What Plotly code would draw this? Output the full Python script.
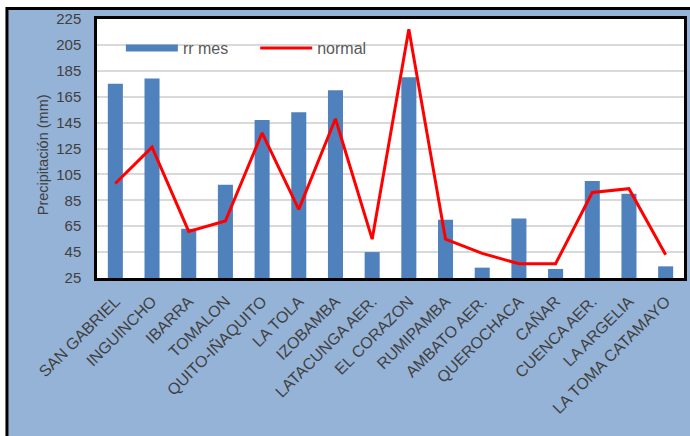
import plotly.graph_objects as go

# Monthly rainfall per station versus the climatological normal
stations = [
    "SAN GABRIEL", "INGUINCHO", "IBARRA", "TOMALON", "QUITO-IÑAQUITO",
    "LA TOLA", "IZOBAMBA", "LATACUNGA AER.", "EL CORAZON", "RUMIPAMBA",
    "AMBATO AER.", "QUEROCHACA", "CAÑAR", "CUENCA AER.", "LA ARGELIA",
    "LA TOMA CATAMAYO",
]
rr_mes = [175, 179, 63, 97, 147, 153, 170, 45, 180, 70, 33, 71, 32, 100, 90, 34]
normal = [98, 126, 61, 69, 137, 78, 148, 55, 217, 55, 44, 36, 36, 91, 94, 43]
y_ticks = [25, 45, 65, 85, 105, 125, 145, 165, 185, 205, 225]

BAR_BLUE = "#4F81BD"
FRAME_BLUE = "#95B3D7"
TEXT = "#404040"
FONT = "Liberation Sans"

W, H = 690, 436
ML, MR, MT, MB = 97, 3, 19, 158
PW, PH = W - ML - MR, H - MT - MB


def px_x(px):
    return (px - ML) / PW


def px_y(py):
    return (H - MB - py) / PH


fig = go.Figure()

fig.add_trace(go.Bar(
    x=stations, y=rr_mes, name="rr mes", width=0.41,
    marker=dict(color=BAR_BLUE, line=dict(width=0)),
    showlegend=False, legendgroup="rr",
))
fig.add_trace(go.Scatter(
    x=stations, y=normal, name="normal", mode="lines",
    line=dict(color="#FF0000", width=3),
    legend="legend2",
))
# legend key for the bars, drawn as a thick band
fig.add_trace(go.Scatter(
    x=[None], y=[None], name="rr mes", mode="lines",
    line=dict(color=BAR_BLUE, width=7),
    legendgroup="rr",
))

shapes = [
    # light blue chart frame with black outline
    dict(type="rect", xref="paper", yref="paper",
         x0=px_x(6.5), x1=px_x(W + 20), y0=px_y(8.5), y1=px_y(H + 20),
         fillcolor=FRAME_BLUE, line=dict(color="black", width=3), layer="below"),
    # white plotting area
    dict(type="rect", xref="paper", yref="paper",
         x0=0, x1=1, y0=0, y1=1,
         fillcolor="white", line=dict(width=0), layer="below"),
]

legend_style = dict(
    orientation="h", xanchor="left", yanchor="top",
    bgcolor="rgba(0,0,0,0)", font=dict(family=FONT, size=16, color="#595959"),
    itemwidth=52,
)

fig.update_layout(
    width=W, height=H,
    margin=dict(l=ML, r=MR, t=MT, b=MB),
    paper_bgcolor="white",
    plot_bgcolor="rgba(0,0,0,0)",
    font=dict(family=FONT, color=TEXT),
    shapes=shapes,
    bargap=0.59,
    legend=dict(legend_style, x=px_x(121), y=px_y(31)),
    legend2=dict(legend_style, x=px_x(256), y=px_y(31)),
    xaxis=dict(
        tickangle=-45, tickfont=dict(family=FONT, size=16, color=TEXT),
        showline=True, linecolor="black", linewidth=2.5, mirror=True,
        showgrid=False, ticks="", ticklabelstandoff=5,
    ),
    yaxis=dict(
        range=[25, 225], tickvals=y_ticks,
        tickfont=dict(family=FONT, size=15, color=TEXT),
        showline=True, linecolor="black", linewidth=2.5, mirror=True,
        showgrid=True, gridcolor="#D9D9D9", gridwidth=1.5,
        ticks="", ticklabelstandoff=10, zeroline=False,
    ),
    annotations=[dict(
        text="Precipitación (mm)", xref="paper", yref="paper",
        x=px_x(43), y=px_y(155), xanchor="center", yanchor="middle",
        textangle=-90, showarrow=False,
        font=dict(family=FONT, size=14.5, color=TEXT),
    )],
)

fig.write_html("out.html")
